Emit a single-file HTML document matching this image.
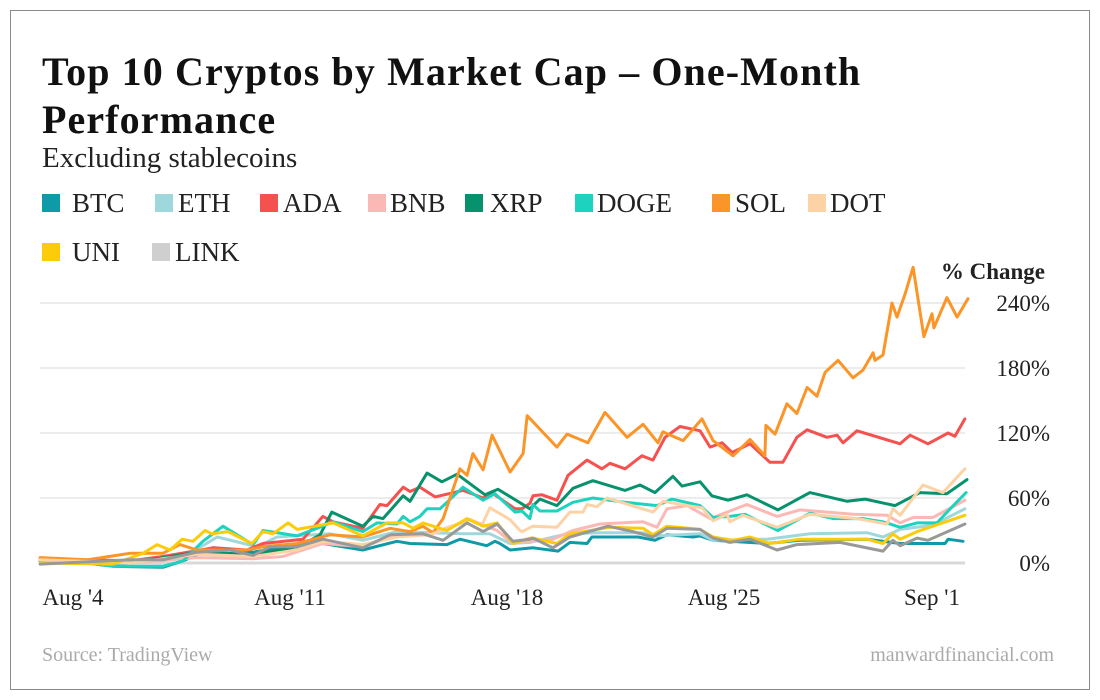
<!DOCTYPE html>
<html><head><meta charset="utf-8">
<style>
html,body{margin:0;padding:0;background:#fff;}
body{width:1100px;height:700px;position:relative;overflow:hidden;font-family:"Liberation Serif",serif;}
#frame{position:absolute;left:10px;top:10px;width:1078px;height:678px;border:1px solid #8a8a8a;}
.t{position:absolute;white-space:nowrap;}
</style></head>
<body>
<div id="frame"></div>
<div class="t" style="left:42px;top:48px;font-size:40px;letter-spacing:1.1px;font-weight:bold;line-height:48px;color:#111;">Top 10 Cryptos by Market Cap – One-Month<br>Performance</div>
<div class="t" style="left:42px;top:142px;font-size:29px;color:#222;">Excluding stablecoins</div>
<svg id="chart" width="1100" height="700" style="position:absolute;left:0;top:0"></svg>
<script>
const NS="http://www.w3.org/2000/svg";
const svg=document.getElementById('chart');
const names=["BTC","ETH","ADA","BNB","XRP","DOGE","SOL","DOT","UNI","LINK"];
const lineColors=["#0e9aa7","#9fd8dc","#f4514f","#fbb8b5","#07926d","#1dd3bf","#fb9528","#fdd3a6","#fccc0a","#999999"];
const swatchColors=["#0e9aa7","#9fd8dc","#f4514f","#fbb8b5","#07926d","#1dd3bf","#fb9528","#fdd3a6","#fccc0a","#cfcfcf"];
const yTicks=[0,60,120,180,240];
const xTickDays=[0,7,14,21,28];
const xTickLabels=["Aug '4","Aug '11","Aug '18","Aug '25","Sep '1"];
// [day offset from Aug 4, % change]
const btcData=[[-1.06,2],[0.42,0],[1.29,-3],[2.9,-4],[3.55,2],[4.52,14],[5.81,10],[7.23,17],[8.06,18],[9.35,12],[10.45,20],[10.87,18],[12.06,17],[12.48,22],[13.35,16],[13.61,20],[13.77,18],[14.1,12],[14.84,14],[15.65,11],[16.03,19],[16.58,18],[16.74,24],[18.23,24],[18.77,21],[19.16,26],[20.0,24],[20.23,25],[20.65,21],[22.39,18],[23.45,21],[25.61,22],[26.68,18],[28.13,18],[28.23,22],[28.71,20]];
const ethData=[[-1.06,2],[1.84,0],[3.55,5],[4.65,24],[5.94,15],[6.58,24],[8.29,27],[9.35,21],[10.45,29],[12.58,27],[13.45,27],[14.1,18],[14.74,19],[15.94,27],[17.0,28],[18.39,28],[18.84,25],[20.23,27],[20.65,21],[22.39,22],[23.77,27],[25.61,28],[26.13,24],[26.68,31],[27.74,35],[28.77,50]];
const adaData=[[-1.06,4],[1.84,2],[2.9,6],[4.52,14],[5.61,12],[6.13,18],[7.42,22],[8.06,43],[8.39,38],[9.35,32],[9.9,54],[10.13,53],[10.65,70],[10.87,66],[11.19,70],[11.68,61],[12.58,67],[13.23,60],[13.55,64],[14.26,50],[14.48,50],[14.74,55],[14.84,62],[15.13,63],[15.61,58],[15.97,81],[16.58,95],[17.06,87],[17.32,92],[17.81,87],[18.35,99],[18.71,95],[19.1,116],[19.58,126],[20.23,122],[20.55,107],[20.94,111],[21.26,102],[21.84,110],[22.48,93],[22.9,93],[23.35,116],[23.68,123],[24.32,116],[24.65,118],[24.84,111],[25.29,122],[26.68,110],[27.0,118],[27.58,110],[28.23,120],[28.45,117],[28.77,133]];
const bnbData=[[-1.06,3],[1.84,0],[4.0,5],[5.81,4],[6.77,6],[8.06,18],[9.35,15],[10.45,26],[11.52,27],[12.81,40],[13.68,30],[14.19,18],[14.74,20],[15.48,22],[16.13,30],[17.0,36],[18.39,38],[18.84,33],[19.16,50],[19.81,53],[20.55,41],[21.74,54],[22.71,43],[23.45,49],[25.16,45],[26.26,44],[26.68,37],[27.1,42],[27.74,42],[28.77,58]];
const xrpData=[[-1.06,2],[1.84,0],[4.0,10],[5.81,8],[7.23,15],[7.42,17],[7.97,26],[8.35,47],[9.35,34],[9.68,43],[10.0,41],[10.65,62],[10.87,57],[11.42,83],[11.9,75],[12.39,82],[13.29,63],[13.71,68],[14.74,50],[15.06,59],[15.61,53],[16.13,69],[16.77,76],[17.81,67],[18.29,72],[18.77,65],[19.35,80],[19.65,71],[20.23,75],[20.61,62],[21.13,58],[21.74,63],[22.74,49],[23.77,65],[24.97,57],[25.55,59],[26.52,53],[27.32,65],[28.19,64],[28.84,77]];
const dogeData=[[-1.06,2],[0.42,1],[1.29,-3],[2.9,-3],[3.55,2],[4.19,20],[4.84,34],[5.81,17],[6.13,30],[7.23,25],[7.87,32],[8.39,38],[9.35,29],[9.81,37],[10.45,36],[10.65,43],[10.87,38],[11.19,43],[11.42,50],[11.84,50],[12.58,70],[13.23,58],[13.61,64],[14.26,47],[14.48,48],[14.74,41],[14.84,54],[15.06,48],[15.61,48],[16.13,56],[16.77,60],[17.81,56],[18.84,53],[19.32,59],[20.23,53],[20.65,42],[21.19,43],[21.68,45],[22.74,30],[23.77,46],[24.52,41],[25.48,41],[26.13,38],[26.68,33],[27.23,37],[27.87,37],[28.23,48],[28.81,65]];
const solData=[[-1.06,5],[0.45,3],[1.84,9],[2.9,9],[3.45,17],[4.0,12],[5.61,12],[6.13,15],[7.23,18],[8.29,26],[9.35,24],[10.23,32],[10.87,29],[11.29,34],[11.61,28],[11.94,41],[12.48,87],[12.71,81],[12.9,101],[13.23,86],[13.52,118],[14.1,84],[14.52,101],[14.65,136],[15.61,107],[15.94,119],[16.61,111],[17.16,139],[17.87,116],[18.39,128],[18.87,111],[19.03,121],[19.68,113],[20.29,133],[20.65,113],[21.29,99],[21.84,114],[22.32,99],[22.35,127],[22.65,119],[23.03,147],[23.35,138],[23.68,162],[24.0,154],[24.26,176],[24.68,187],[25.16,171],[25.48,178],[25.81,194],[25.87,187],[26.13,192],[26.42,240],[26.58,227],[26.84,248],[27.1,273],[27.45,209],[27.71,230],[27.77,217],[28.19,245],[28.52,227],[28.87,244]];
const dotData=[[-1.06,3],[1.84,0],[4.0,8],[5.81,6],[7.23,12],[8.06,20],[9.35,17],[10.45,24],[11.52,26],[12.81,40],[13.19,35],[13.45,51],[14.1,40],[14.42,30],[14.48,29],[14.84,34],[15.61,33],[16.03,47],[16.45,47],[16.58,54],[16.9,52],[17.23,60],[18.71,47],[19.03,57],[19.81,53],[20.29,51],[20.65,39],[21.1,45],[21.19,38],[21.61,44],[22.71,33],[23.77,45],[25.29,41],[26.26,36],[26.45,50],[26.68,44],[27.42,72],[28.06,65],[28.77,87]];
const uniData=[[-1.06,0],[1.29,-1],[2.26,9],[2.71,17],[3.13,12],[3.52,22],[3.87,20],[4.26,30],[4.48,27],[5.0,29],[5.77,18],[6.13,29],[6.45,27],[6.94,37],[7.23,31],[8.39,37],[9.35,25],[10.13,37],[10.65,37],[10.97,32],[11.29,37],[12.06,30],[12.71,41],[13.23,34],[13.68,37],[14.19,18],[14.74,23],[14.84,23],[15.61,18],[16.03,27],[17.32,33],[18.39,32],[18.71,26],[19.16,34],[20.23,31],[20.65,24],[21.29,21],[21.84,24],[22.48,18],[23.45,22],[25.61,22],[26.13,18],[26.45,27],[26.68,22],[27.23,29],[28.77,44]];
const linkData=[[-1.06,-1],[1.84,3],[2.9,3],[4.0,10],[5.06,12],[5.81,7],[6.35,15],[7.23,15],[8.06,22],[9.35,14],[10.23,26],[11.29,27],[11.94,21],[12.71,37],[13.23,29],[13.68,36],[14.19,20],[14.74,22],[14.84,23],[15.48,14],[16.03,24],[17.26,34],[18.06,29],[18.71,24],[19.16,32],[20.23,31],[20.65,23],[21.19,19],[21.84,22],[22.71,12],[23.35,17],[24.74,19],[26.13,11],[26.45,21],[26.68,16],[27.23,23],[27.58,21],[28.77,36]];
const seriesData=[btcData,ethData,adaData,bnbData,xrpData,dogeData,solData,dotData,uniData,linkData];

const X0=73, PXDAY=31, Y0=563, PXPCT=65/60, PL=40, PR=965;
function xs(d){return X0+d*PXDAY;}
function ys(v){return Y0-v*PXPCT;}
function mk(tag,attrs,parent){const e=document.createElementNS(NS,tag);for(const k in attrs)e.setAttribute(k,attrs[k]);(parent||svg).appendChild(e);return e;}

// legend
const legendPos=[[42,72,203],[155,178,203],[260,283,203],[368,390,203],[465,490,203],[575,597,203],[712,735,203],[808,830,203],[42,72,252],[152,175,252]];
names.forEach((n,i)=>{
  const g=mk('g',{});
  
  
  const p=legendPos[i];
  mk('rect',{x:p[0],y:p[2]-9,width:18,height:18,fill:swatchColors[i]},g);
  const t=mk('text',{x:p[1],y:p[2]+9,'font-size':27,fill:'#222','font-family':'"Liberation Serif",serif'},g);
  t.textContent=n;
});

// gridlines & y ticks
yTicks.forEach(v=>{
  const l=mk('line',{x1:PL,x2:PR,y1:ys(v),y2:ys(v),stroke:v===0?'#d8d8d8':'#d9d9d9','stroke-width':v===0?3:1});
  
  
  const t=mk('text',{x:1050,y:ys(v)+8,'text-anchor':'end','font-size':23,fill:'#222','font-family':'"Liberation Serif",serif'});
  
  
  t.textContent=v+'%';
});
const yt=mk('text',{x:1045,y:279,'text-anchor':'end','font-size':23,'font-weight':'bold',fill:'#222','font-family':'"Liberation Serif",serif'});


yt.textContent='% Change';

// x ticks
xTickDays.forEach((d,i)=>{
  const t=mk('text',{x:xs(d)-(i===4?9:0),y:605,'text-anchor':'middle','font-size':23,fill:'#222','font-family':'"Liberation Serif",serif'});
  
  
  t.textContent=xTickLabels[i];
});

// series
seriesData.forEach((data,i)=>{
  const pts=data.map(p=>xs(p[0]).toFixed(1)+','+ys(p[1]).toFixed(1)).join(' ');
  const pl=mk('polyline',{points:pts,fill:'none',stroke:lineColors[i],'stroke-width':3,'stroke-linejoin':'round','stroke-linecap':'round'});
  
  
});
</script>
<div class="t" style="left:42px;top:644px;font-size:20px;color:#aaa;">Source: TradingView</div>
<div class="t" style="right:46px;top:644px;font-size:20px;color:#aaa;">manwardfinancial.com</div>
</body></html>
